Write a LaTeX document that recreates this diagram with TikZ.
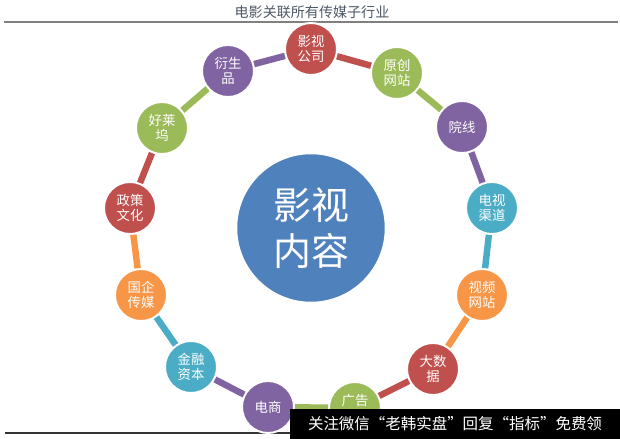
\documentclass[tikz,border=0pt]{standalone}
\usepackage{fontspec}
\setmainfont{Noto Sans CJK SC}
\definecolor{ored}{HTML}{C0504D}
\definecolor{ogreen}{HTML}{9BBB59}
\definecolor{opurple}{HTML}{8064A2}
\definecolor{oteal}{HTML}{4BACC6}
\definecolor{oorange}{HTML}{F79646}
\definecolor{oblue}{HTML}{4F81BD}
\definecolor{titlegray}{HTML}{4D5866}

\begin{document}
\begin{tikzpicture}[x=0.025cm,y=-0.025cm,
  ring/.style={circle,draw=white,line width=1.4pt,minimum size=1.3cm,inner sep=0pt,
    text=white,align=center,font=\fontsize{9.5}{11}\selectfont},
  link/.style={line width=4.6pt}]
  \useasboundingbox (0,0) rectangle (620,439);

  % title and rules
  \node[text=titlegray,font=\fontsize{10}{12}\selectfont] (biaoti) at (312,12) {电影关联所有传媒子行业};
  \draw[gray,line width=1.3pt] (4,22) -- (618,22);
  \draw[black!80,line width=0.8pt] (5,433) -- (292,433);

  % centre
  \node[circle,fill=oblue,draw=white,line width=1.8pt,minimum size=3.75cm,inner sep=0pt,
    text=white,align=center,font=\fontsize{27}{33}\selectfont] (neirong) at (311,228) {影视\\内容};

  % ring
  \node[ring,fill=ored]     (gongsi)    at (311,49)  {影视\\公司};
  \node[ring,fill=ogreen]   (wangzhan)  at (397,73)  {原创\\网站};
  \node[ring,fill=opurple]  (yuanxian)  at (462,127) {院线};
  \node[ring,fill=oteal]    (qudao)     at (492,208) {电视\\渠道};
  \node[ring,fill=oorange]  (shipin)    at (482,295) {视频\\网站};
  \node[ring,fill=ored]     (shuju)     at (433,369) {大数\\据};
  \node[ring,fill=ogreen]   (guanggao)  at (355,408) {广告\\~};
  \node[ring,fill=opurple]  (dianshang) at (268,407) {电商};
  \node[ring,fill=oteal]    (jinrong)   at (191,367) {金融\\资本};
  \node[ring,fill=oorange]  (guoqi)     at (141,295) {国企\\传媒};
  \node[ring,fill=ored]     (zhengce)   at (130,208) {政策\\文化};
  \node[ring,fill=ogreen]   (haolaiwu)  at (162,128) {好莱\\坞};
  \node[ring,fill=opurple]  (yansheng)  at (228,71)  {衍生\\品};

  \draw[link,ored]    (gongsi) -- (wangzhan);
  \draw[link,ogreen]  (wangzhan) -- (yuanxian);
  \draw[link,opurple] (yuanxian) -- (qudao);
  \draw[link,oteal]   (qudao) -- (shipin);
  \draw[link,oorange] (shipin) -- (shuju);
  \draw[link,ored]    (shuju) -- (guanggao);
  \draw[link,ogreen]  (guanggao) -- (dianshang);
  \draw[link,opurple] (dianshang) -- (jinrong);
  \draw[link,oteal]   (jinrong) -- (guoqi);
  \draw[link,oorange] (guoqi) -- (zhengce);
  \draw[link,ored]    (zhengce) -- (haolaiwu);
  \draw[link,ogreen]  (haolaiwu) -- (yansheng);
  \draw[link,opurple] (yansheng) -- (gongsi);

  % watermark
  \node[fill=black,text=white,minimum width=8.25cm,minimum height=0.75cm,inner sep=0pt,
    font=\fontsize{11}{13}\selectfont] (shuiyin) at (455,424) {关注微信“老韩实盘”回复“指标”免费领};
\end{tikzpicture}
\end{document}
